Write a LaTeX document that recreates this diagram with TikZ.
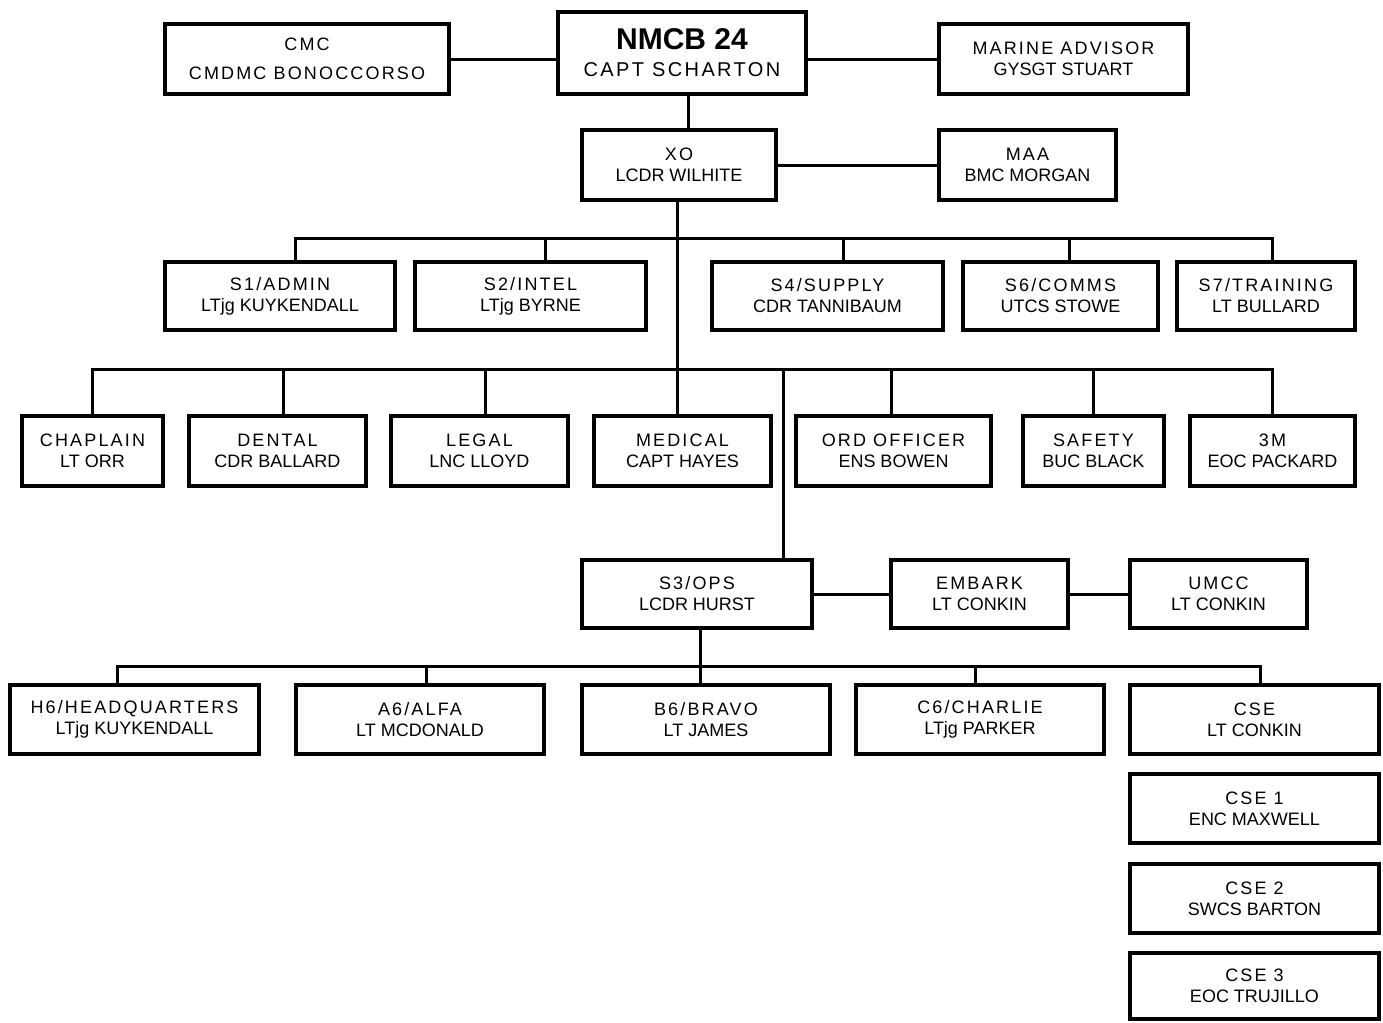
\documentclass[tikz,border=0pt]{standalone}
\usepackage{fontspec}
\setmainfont{Liberation Sans}
\newfontfamily\spaced[LetterSpace=12]{Liberation Sans}
\begin{document}
\begin{tikzpicture}[x=0.5pt,y=-0.5pt,
  box/.style={draw, line width=2pt, inner sep=0pt, align=center, fill=white,
    font=\fontsize{9}{10.5}\selectfont},
  conn/.style={line width=1.5pt}]
\useasboundingbox[fill=white] (0,0) rectangle (1383,1023);
% connectors first (behind boxes)
\coordinate (b1) at (0,238);
\coordinate (b2) at (0,369);
\coordinate (b3) at (0,666);
% ---------- nodes ----------
\node[box, minimum width=124pt, minimum height=41pt] (nmcb) at (682,53)
  {{\fontsize{15}{15}\selectfont\bfseries NMCB 24}\\[3pt]{\spaced\fontsize{10}{12}\selectfont CAPT SCHARTON}};
\node[box, minimum width=142pt, minimum height=35pt] (cmc) at (307,59)
  {{\spaced CMC}\\[4pt]{\spaced CMDMC BONOCCORSO}};
\node[box, minimum width=124.5pt, minimum height=35pt] (marine) at (1063.5,59)
  {{\spaced MARINE ADVISOR}\\GYSGT STUART};
\node[box, minimum width=97pt, minimum height=35pt] (xo) at (679,165)
  {{\spaced XO}\\LCDR WILHITE};
\node[box, minimum width=88.5pt, minimum height=35pt] (maa) at (1027.5,165)
  {{\spaced MAA}\\BMC MORGAN};
% staff row
\node[box, minimum width=115pt, minimum height=34pt] (s1) at (280,296)
  {{\spaced S1/ADMIN}\\LTjg KUYKENDALL};
\node[box, minimum width=115.5pt, minimum height=34pt] (s2) at (530.5,296)
  {{\spaced S2/INTEL}\\LTjg BYRNE};
\node[box, minimum width=115.5pt, minimum height=34pt] (s4) at (827.5,296)
  {{\spaced S4/SUPPLY}\\CDR TANNIBAUM};
\node[box, minimum width=97.5pt, minimum height=34pt] (s6) at (1060.5,296)
  {{\spaced S6/COMMS}\\UTCS STOWE};
\node[box, minimum width=89pt, minimum height=34pt] (s7) at (1266,296)
  {{\spaced S7/TRAINING}\\LT BULLARD};
% special staff row
\node[box, minimum width=70.5pt, minimum height=35pt] (chap) at (92.5,451)
  {{\spaced CHAPLAIN}\\LT ORR};
\node[box, minimum width=88.5pt, minimum height=35pt] (dental) at (277.5,451)
  {{\spaced DENTAL}\\CDR BALLARD};
\node[box, minimum width=88.5pt, minimum height=35pt] (legal) at (479.5,451)
  {{\spaced LEGAL}\\LNC LLOYD};
\node[box, minimum width=88.5pt, minimum height=35pt] (medical) at (682.5,451)
  {{\spaced MEDICAL}\\CAPT HAYES};
\node[box, minimum width=97.5pt, minimum height=35pt] (ord) at (893.5,451)
  {{\spaced ORD OFFICER}\\ENS BOWEN};
\node[box, minimum width=70.5pt, minimum height=35pt] (safety) at (1093.5,451)
  {{\spaced SAFETY}\\BUC BLACK};
\node[box, minimum width=82.5pt, minimum height=35pt] (tm) at (1272.5,451)
  {{\spaced 3M}\\EOC PACKARD};
% ops row
\node[box, minimum width=115pt, minimum height=34pt] (s3) at (697,594)
  {{\spaced S3/OPS}\\LCDR HURST};
\node[box, minimum width=88.5pt, minimum height=34pt] (embark) at (979.5,594)
  {{\spaced EMBARK}\\LT CONKIN};
\node[box, minimum width=88.5pt, minimum height=34pt] (umcc) at (1218.5,594)
  {{\spaced UMCC}\\LT CONKIN};
% companies row
\node[box, minimum width=124.5pt, minimum height=34.5pt] (h6) at (134.5,719.5)
  {{\spaced H6/HEADQUARTERS}\\LTjg KUYKENDALL};
\node[box, minimum width=124pt, minimum height=34.5pt] (a6) at (420,719.5)
  {{\spaced A6/ALFA}\\LT MCDONALD};
\node[box, minimum width=124pt, minimum height=34.5pt] (b6) at (706,719.5)
  {{\spaced B6/BRAVO}\\LT JAMES};
\node[box, minimum width=124pt, minimum height=34.5pt] (c6) at (980,719.5)
  {{\spaced C6/CHARLIE}\\LTjg PARKER};
\node[box, minimum width=124.5pt, minimum height=34.5pt] (cse) at (1254.5,719.5)
  {{\spaced CSE}\\LT CONKIN};
\node[box, minimum width=124.5pt, minimum height=34.5pt] (cse1) at (1254.5,808.5)
  {{\spaced CSE 1}\\ENC MAXWELL};
\node[box, minimum width=124.5pt, minimum height=34.5pt] (cse2) at (1254.5,898.5)
  {{\spaced CSE 2}\\SWCS BARTON};
\node[box, minimum width=124.5pt, minimum height=33pt] (cse3) at (1254.5,986)
  {{\spaced CSE 3}\\EOC TRUJILLO};
% ---------- connectors ----------
\draw[conn] (cmc.east) -- (cmc.east -| nmcb.west);
\draw[conn] (marine.west) -- (marine.west -| nmcb.east);
\draw[conn] ([xshift=3pt]nmcb.south) -- ([xshift=3pt]nmcb.south |- xo.north);
\draw[conn] (xo.east) -- (xo.east -| maa.west);
\draw[conn] ([xshift=-1pt]xo.south) -- ([xshift=-1pt]xo.south |- medical.north);
% staff bus
\draw[conn] ([xshift=7.5pt]s1.north) -- ([xshift=7.5pt]s1.north |- b1)
  -- ([xshift=3pt]s7.north |- b1) -- ([xshift=3pt]s7.north);
\draw[conn] ([xshift=7.5pt]s2.north) -- ([xshift=7.5pt]s2.north |- b1);
\draw[conn] ([xshift=8pt]s4.north) -- ([xshift=8pt]s4.north |- b1);
\draw[conn] ([xshift=4.5pt]s6.north) -- ([xshift=4.5pt]s6.north |- b1);
% special staff bus
\draw[conn] (chap.north) -- (chap.north |- b2) -- (tm.north |- b2) -- (tm.north);
\draw[conn] ([xshift=3pt]dental.north) -- ([xshift=3pt]dental.north |- b2);
\draw[conn] ([xshift=3pt]legal.north) -- ([xshift=3pt]legal.north |- b2);
\draw[conn] ([xshift=-1pt]ord.north) -- ([xshift=-1pt]ord.north |- b2);
\draw[conn] (safety.north) -- (safety.north |- b2);
\draw[conn] ([xshift=43pt]s3.north |- b2) -- ([xshift=43pt]s3.north);
% ops links
\draw[conn] (s3.east) -- (s3.east -| embark.west);
\draw[conn] (embark.east) -- (embark.east -| umcc.west);
% companies bus
\draw[conn] ([xshift=1.5pt]s3.south) -- ([xshift=1.5pt]s3.south |- b6.north);
\draw[conn] ([xshift=-8.5pt]h6.north) -- ([xshift=-8.5pt]h6.north |- b3)
  -- ([xshift=3pt]cse.north |- b3) -- ([xshift=3pt]cse.north);
\draw[conn] ([xshift=3pt]a6.north) -- ([xshift=3pt]a6.north |- b3);
\draw[conn] ([xshift=-2.5pt]c6.north) -- ([xshift=-2.5pt]c6.north |- b3);
\end{tikzpicture}
\end{document}
